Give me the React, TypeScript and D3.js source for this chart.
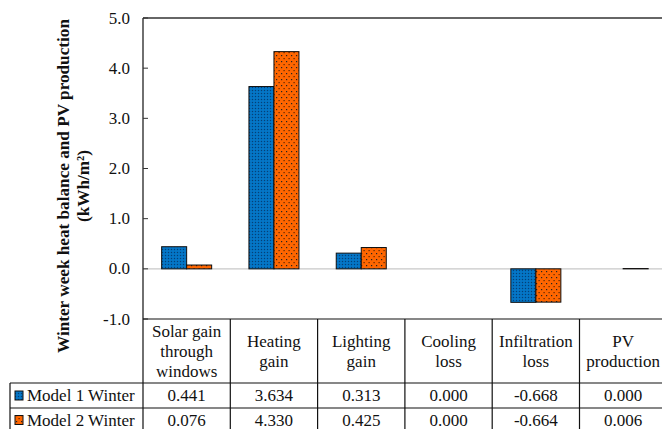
import React, { useEffect } from 'react';
import * as d3 from 'd3';

const categories = [
  ['Solar gain', 'through', 'windows'],
  ['Heating', 'gain'],
  ['Lighting', 'gain'],
  ['Cooling', 'loss'],
  ['Infiltration', 'loss'],
  ['PV', 'production'],
];
const seriesNames = ['Model 1 Winter', 'Model 2 Winter'];
const model1 = [0.441, 3.634, 0.313, 0.0, -0.668, 0.0];
const model2 = [0.076, 4.33, 0.425, 0.0, -0.664, 0.006];
const yTicks = [-1, 0, 1, 2, 3, 4, 5];

const W = 662;
const H = 429;
const font = 'Liberation Serif';

export default function App() {
  useEffect(() => {
    document.body.style.margin = '0';
  }, []);

  const left = 143;
  const colW = 87.3;
  const top = 18;
  const bottom = 319;
  const headBottom = 383;
  const row1Bottom = 408;
  const row2Bottom = 432;
  const tableLeft = 10;

  const idx = categories.map((_, i) => String(i));
  const x = d3.scaleBand().domain(idx).range([left, left + colW * categories.length]).paddingInner(0.427).paddingOuter(0.2135);
  const xs = d3.scaleBand().domain(seriesNames).range([0, x.bandwidth()]);
  const y = d3.scaleLinear().domain([-1, 5]).range([bottom, top]);
  const series = [model1, model2];
  const fills = ['url(#pBlue)', 'url(#pOrange)'];
  const right = left + colW * categories.length;
  const colEdges = d3.range(categories.length + 1).map((i) => left + i * colW);
  const ts = { fontFamily: font, fontSize: 17, fill: '#111' };

  return (
    <svg width={W} height={H} style={{ display: 'block', background: '#fff' }}>
      <defs>
        <pattern id="pBlue" width="3" height="3" patternUnits="userSpaceOnUse">
          <rect width="3" height="3" fill="#0070C0" />
          <rect x="0" y="0" width="1" height="1" fill="#0a3f73" />
          <rect x="1.5" y="1.5" width="1" height="1" fill="#1a86d6" />
        </pattern>
        <pattern id="pOrange" width="5" height="6" patternUnits="userSpaceOnUse">
          <rect width="5" height="6" fill="#FF6600" />
          <rect x="1" y="1" width="1.2" height="1.2" fill="#222" />
          <rect x="3.5" y="4" width="1.2" height="1.2" fill="#5a2400" />
        </pattern>
      </defs>

      {/* zero line */}
      <line x1={left} x2={right} y1={y(0)} y2={y(0)} stroke="#c8c8c8" strokeWidth={1.2} />

      {/* bars */}
      {series.map((vals, si) =>
        vals.map((v, ci) =>
          v === 0 ? null : (
            <rect
              key={`${si}-${ci}`}
              x={(x(String(ci)) as number) + (xs(seriesNames[si]) as number)}
              y={Math.min(y(v), y(0))}
              width={xs.bandwidth()}
              height={Math.abs(y(v) - y(0))}
              fill={fills[si]}
              stroke="#111"
              strokeWidth={1}
            />
          )
        )
      )}

      {/* plot frame */}
      <line x1={left} x2={right} y1={top} y2={top} stroke="#333" strokeWidth={1.5} />
      <line x1={left} x2={left} y1={top} y2={row2Bottom} stroke="#222" strokeWidth={1.3} />
      {yTicks.map((t) => (
        <g key={t}>
          <line x1={left} x2={left + 5} y1={y(t)} y2={y(t)} stroke="#333" strokeWidth={1} />
          <text x={130} y={y(t)} dy="0.33em" textAnchor="end" style={ts}>
            {t.toFixed(1)}
          </text>
        </g>
      ))}

      {/* y title */}
      <g transform={`translate(69,186) rotate(-90)`}>
        <text x={0} y={0} textAnchor="middle" style={{ ...ts, fontSize: 17.2, fontWeight: 'bold' }}>
          Winter week heat balance and PV production
        </text>
        <text x={0} y={20} textAnchor="middle" style={{ ...ts, fontSize: 17.2, fontWeight: 'bold' }}>
          (kWh/m²)
        </text>
      </g>

      {/* table */}
      <g stroke="#111" strokeWidth={1.2}>
        <line x1={left} x2={right} y1={bottom} y2={bottom} />
        <line x1={tableLeft} x2={right} y1={headBottom} y2={headBottom} />
        <line x1={tableLeft} x2={right} y1={row1Bottom} y2={row1Bottom} />
        <line x1={tableLeft} x2={right} y1={row2Bottom} y2={row2Bottom} />
        <line x1={tableLeft} x2={tableLeft} y1={headBottom} y2={row2Bottom} />
        {colEdges.slice(1).map((cx, i) => (
          <line key={i} x1={cx} x2={cx} y1={bottom} y2={row2Bottom} />
        ))}
      </g>
      {categories.map((lines, ci) => {
        const cx = left + (ci + 0.5) * colW;
        const mid = (bottom + headBottom) / 2;
        const lh = 20;
        return (
          <text key={ci} textAnchor="middle" style={ts}>
            {lines.map((ln, li) => (
              <tspan key={li} x={cx} y={mid + (li - (lines.length - 1) / 2) * lh} dy="0.33em">
                {ln}
              </tspan>
            ))}
          </text>
        );
      })}
      {series.map((vals, si) => {
        const rowTop = si === 0 ? headBottom : row1Bottom;
        const rowBot = si === 0 ? row1Bottom : row2Bottom;
        const cy = (rowTop + rowBot) / 2;
        return (
          <g key={si}>
            <rect x={15} y={cy - 4.5} width={8} height={9} fill={fills[si]} stroke="#111" strokeWidth={1} />
            <text x={27} y={cy} dy="0.33em" style={ts}>
              {seriesNames[si]}
            </text>
            {vals.map((v, ci) => (
              <text key={ci} x={left + (ci + 0.5) * colW} y={cy} dy="0.33em" textAnchor="middle" style={ts}>
                {v.toFixed(3)}
              </text>
            ))}
          </g>
        );
      })}
    </svg>
  );
}
